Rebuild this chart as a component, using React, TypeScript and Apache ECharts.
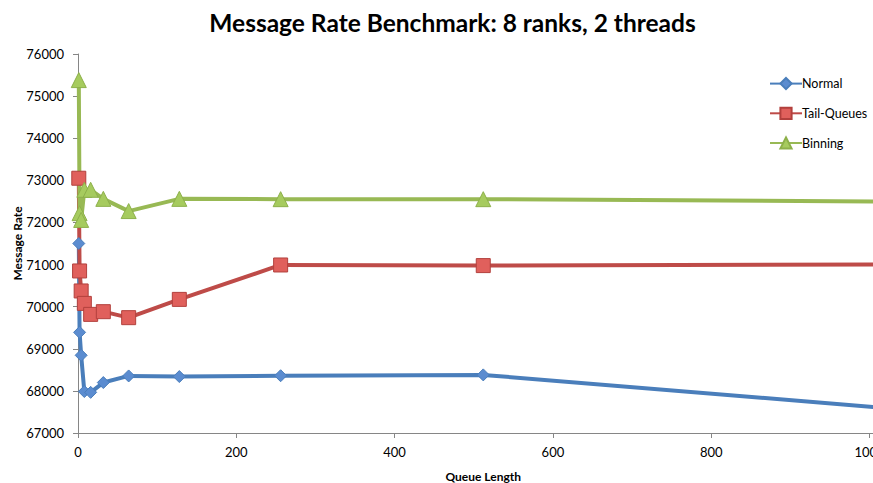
import React, { useEffect, useRef } from "react";
import * as echarts from "echarts";

const queueLengths = [1, 2, 4, 8, 16, 32, 64, 128, 256, 512, 1024];
const normal = [71500, 69390, 68845, 67985, 67965, 68198, 68355, 68340, 68360, 68380, 67590];
const tailQueues = [73050, 70848, 70373, 70078, 69817, 69881, 69739, 70173, 70990, 70975, 71005];
const binning = [75380, 72220, 72060, 72775, 72775, 72560, 72270, 72560, 72553, 72553, 72495];
const seriesNames = ["Normal", "Tail-Queues", "Binning"];
const titleText = "Message Rate Benchmark: 8 ranks, 2 threads";

const FONT = "Lato, 'Open Sans', sans-serif";

export default function App() {
  const ref = useRef<HTMLDivElement>(null);
  useEffect(() => {
    if (!ref.current) return;
    const chart = echarts.init(ref.current, null, { renderer: "svg" });
    const mk = (vals: number[]) => queueLengths.map((x, i) => [x, vals[i]]);
    chart.setOption({
      animation: false,
      textStyle: { fontFamily: FONT },
      title: {
        text: titleText,
        left: "center",
        top: 5,
        textStyle: { fontFamily: FONT, fontWeight: "bold", fontSize: 24.5, color: "#000" },
      },
      legend: {
        orient: "vertical",
        left: 769,
        top: 77,
        padding: 0,
        itemWidth: 32,
        itemHeight: 14,
        itemGap: 16.5,
        textStyle: { fontFamily: FONT, fontSize: 12.5, color: "#000", padding: [0, 0, 0, -5] },
        data: seriesNames,
      },
      grid: { left: 78, top: 54, width: 810.5, height: 379, containLabel: false, outerBoundsMode: "none" },
      xAxis: {
        type: "value",
        min: 0,
        max: 1024,
        interval: 200,
        name: "Queue Length",
        nameLocation: "middle",
        nameGap: 37,
        nameMoveOverlap: false,
        nameTextStyle: { fontFamily: FONT, fontWeight: "bold", fontSize: 12, color: "#000" },
        axisLine: { lineStyle: { color: "#868686", width: 1 } },
        axisTick: { show: true, length: 5, lineStyle: { color: "#868686" } },
        axisLabel: { fontFamily: FONT, fontSize: 13, color: "#000", margin: 12, formatter: (v: number) => String(v) },
        splitLine: { show: false },
      },
      yAxis: {
        type: "value",
        min: 67000,
        max: 76000,
        interval: 1000,
        name: "Message Rate",
        nameLocation: "middle",
        nameGap: 55,
        nameMoveOverlap: false,
        nameTextStyle: { fontFamily: FONT, fontWeight: "bold", fontSize: 12, color: "#000" },
        axisLine: { show: true, lineStyle: { color: "#868686", width: 1 } },
        axisTick: { show: true, length: 5, lineStyle: { color: "#868686" } },
        axisLabel: { fontFamily: FONT, fontSize: 13, color: "#000", margin: 14, formatter: (v: number) => String(v) },
        splitLine: { show: false },
      },
      series: [
        {
          name: seriesNames[0],
          type: "line",
          data: mk(normal),
          symbol: "diamond",
          symbolSize: 12,
          lineStyle: { color: "#4A7EBB", width: 4 },
          itemStyle: { color: "#5B8CD0", borderColor: "#4A7EBB", borderWidth: 1 },
        },
        {
          name: seriesNames[1],
          type: "line",
          data: mk(tailQueues),
          symbol: "rect",
          symbolSize: 14,
          lineStyle: { color: "#BE4B48", width: 4 },
          itemStyle: { color: "#E0605C", borderColor: "#B2403D", borderWidth: 1 },
        },
        {
          name: seriesNames[2],
          type: "line",
          data: mk(binning),
          symbol: "triangle",
          symbolSize: 15,
          lineStyle: { color: "#98B954", width: 4 },
          itemStyle: { color: "#A6CB5E", borderColor: "#8DB04A", borderWidth: 1 },
        },
      ],
    });
    return () => chart.dispose();
  }, []);
  return (
    <div style={{ position: "fixed", left: 0, top: 0, width: 873, height: 483, overflow: "hidden", background: "#fff" }}>
      <div ref={ref} style={{ width: 905, height: 483 }} />
    </div>
  );
}
